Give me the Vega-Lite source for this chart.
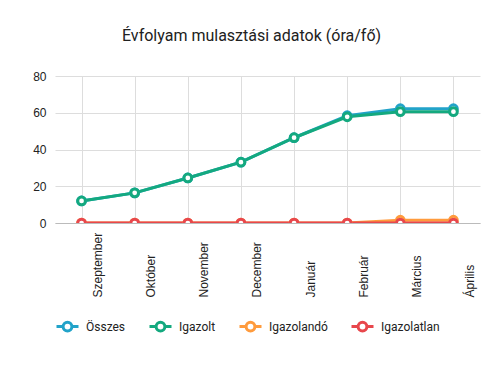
{
  "$schema": "https://vega.github.io/schema/vega-lite/v6.json",
  "width": 425,
  "height": 147,
  "autosize": {"type": "none"},
  "padding": {"left": 55, "top": 76, "right": 23, "bottom": 145},
  "background": "white",
  "title": {
    "text": "Évfolyam mulasztási adatok (óra/fő)",
    "font": "Roboto",
    "fontSize": 16,
    "fontWeight": "normal",
    "color": "#212121",
    "anchor": "middle",
    "frame": "group",
    "dx": -16,
    "offset": 26
  },
  "data": {
    "values": [
      {"honap": "Szeptember", "sor": "Összes", "ertek": 12},
      {"honap": "Október", "sor": "Összes", "ertek": 16.4},
      {"honap": "November", "sor": "Összes", "ertek": 24.5},
      {"honap": "December", "sor": "Összes", "ertek": 33.1},
      {"honap": "Január", "sor": "Összes", "ertek": 46.4},
      {"honap": "Február", "sor": "Összes", "ertek": 58.4},
      {"honap": "Március", "sor": "Összes", "ertek": 62.2},
      {"honap": "Április", "sor": "Összes", "ertek": 62.2},
      {"honap": "Szeptember", "sor": "Igazolt", "ertek": 12},
      {"honap": "Október", "sor": "Igazolt", "ertek": 16.4},
      {"honap": "November", "sor": "Igazolt", "ertek": 24.5},
      {"honap": "December", "sor": "Igazolt", "ertek": 33.1},
      {"honap": "Január", "sor": "Igazolt", "ertek": 46.4},
      {"honap": "Február", "sor": "Igazolt", "ertek": 57.8},
      {"honap": "Március", "sor": "Igazolt", "ertek": 60.6},
      {"honap": "Április", "sor": "Igazolt", "ertek": 60.6},
      {"honap": "Szeptember", "sor": "Igazolandó", "ertek": 0},
      {"honap": "Október", "sor": "Igazolandó", "ertek": 0},
      {"honap": "November", "sor": "Igazolandó", "ertek": 0},
      {"honap": "December", "sor": "Igazolandó", "ertek": 0},
      {"honap": "Január", "sor": "Igazolandó", "ertek": 0},
      {"honap": "Február", "sor": "Igazolandó", "ertek": 0},
      {"honap": "Március", "sor": "Igazolandó", "ertek": 1.5},
      {"honap": "Április", "sor": "Igazolandó", "ertek": 1.5},
      {"honap": "Szeptember", "sor": "Igazolatlan", "ertek": 0},
      {"honap": "Október", "sor": "Igazolatlan", "ertek": 0},
      {"honap": "November", "sor": "Igazolatlan", "ertek": 0},
      {"honap": "December", "sor": "Igazolatlan", "ertek": 0},
      {"honap": "Január", "sor": "Igazolatlan", "ertek": 0},
      {"honap": "Február", "sor": "Igazolatlan", "ertek": 0},
      {"honap": "Március", "sor": "Igazolatlan", "ertek": 0},
      {"honap": "Április", "sor": "Igazolatlan", "ertek": 0}
    ]
  },
  "encoding": {
    "x": {
      "field": "honap",
      "type": "ordinal",
      "sort": null,
      "scale": {"type": "point", "padding": 0.5},
      "title": null,
      "axis": {
        "labelAngle": -90,
        "labelAlign": "left",
        "labelBaseline": "middle",
        "labelPadding": 74,
        "labelOffset": 16,
        "ticks": false,
        "tickSize": 0,
        "grid": true,
        "gridColor": "#dddddd",
        "domain": true,
        "domainColor": "#bbbbbb",
        "labelFont": "Liberation Sans",
        "labelFontSize": 12,
        "labelColor": "#222222"
      }
    },
    "y": {
      "field": "ertek",
      "type": "quantitative",
      "scale": {"domain": [0, 80], "nice": false},
      "title": null,
      "axis": {
        "values": [0, 20, 40, 60, 80],
        "ticks": false,
        "domain": false,
        "gridColor": "#dddddd",
        "labelPadding": 9,
        "labelFont": "Liberation Sans",
        "labelFontSize": 12,
        "labelColor": "#222222"
      }
    },
    "stroke": {
      "field": "sor",
      "type": "nominal",
      "sort": null,
      "scale": {
        "domain": ["Összes", "Igazolt", "Igazolandó", "Igazolatlan"],
        "range": ["#22a3c9", "#14a97f", "#ff9b3d", "#e8474c"]
      },
      "legend": {
        "title": null,
        "orient": "bottom",
        "direction": "horizontal",
        "offset": 17,
        "symbolType": "M-1,0H-0.4M0.4,0H1M-0.4,0A0.4,0.4,0,1,1,0.4,0A0.4,0.4,0,1,1,-0.4,0Z",
        "symbolSize": 484,
        "symbolStrokeWidth": 3,
        "symbolFillColor": "white",
        "symbolOpacity": 1,
        "labelOffset": 6,
        "columnPadding": 17,
        "labelFont": "Roboto",
        "labelFontSize": 12,
        "labelColor": "#222222"
      }
    }
  },
  "layer": [
    {"mark": {"type": "line", "strokeWidth": 3, "clip": true}},
    {"mark": {"type": "point", "filled": false, "fill": "white", "fillOpacity": 1, "opacity": 1, "size": 60, "strokeWidth": 3, "clip": true}}
  ],
  "config": {"view": {"stroke": null}}
}
